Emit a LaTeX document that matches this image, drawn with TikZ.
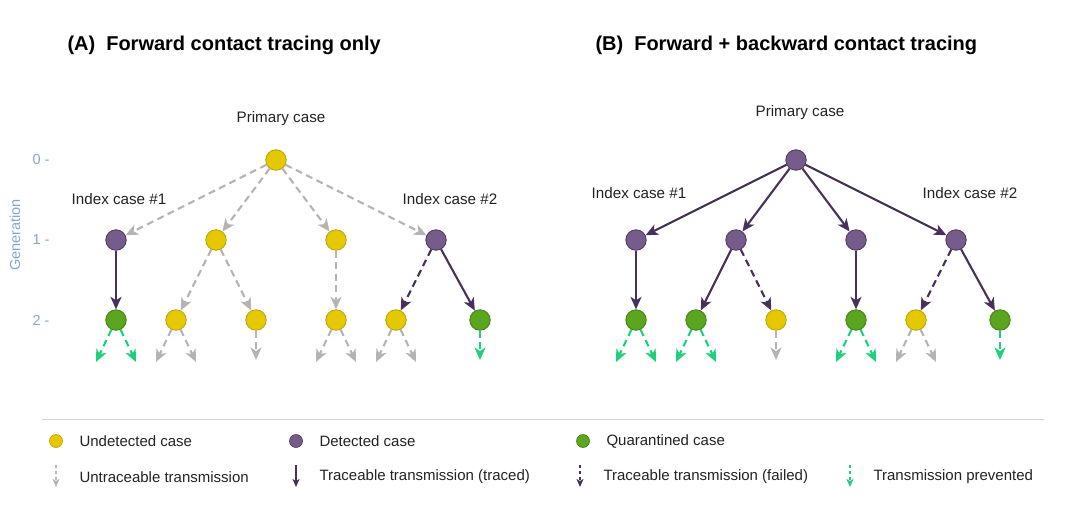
\documentclass[tikz,border=0pt]{standalone}
\usepackage{fontspec}
\setmainfont{Liberation Sans}
\usetikzlibrary{arrows.meta}
\definecolor{yel}{HTML}{E6C800}
\definecolor{yelB}{HTML}{B89E00}
\definecolor{purF}{HTML}{765C8A}
\definecolor{purB}{HTML}{4A3560}
\definecolor{purE}{HTML}{47305E}
\definecolor{grnF}{HTML}{5BA61E}
\definecolor{grnB}{HTML}{3E7A12}
\definecolor{gry}{HTML}{B4B4B4}
\definecolor{grnA}{HTML}{1DD17A}
\definecolor{axc}{HTML}{7FA6E2}
\definecolor{txt}{HTML}{222222}
\tikzset{
  case/.style={circle, minimum size=20.5pt, inner sep=0pt, line width=0.8pt},
  und/.style={case, fill=yel, draw=yelB},
  det/.style={case, fill=purF, draw=purB},
  qua/.style={case, fill=grnF, draw=grnB},
  tip/.style={-{Stealth[length=12.5pt,width=11pt,inset=3.5pt]}},
  untr/.style={tip, draw=gry, line width=2.1pt, dash pattern=on 7pt off 4.5pt},
  trc/.style={tip, draw=purE, line width=2.1pt},
  fail/.style={tip, draw=purE, line width=2.1pt, dash pattern=on 7pt off 4.5pt},
  prev/.style={tip, draw=grnA, line width=2.1pt, dash pattern=on 7pt off 4.5pt},
  lab/.style={text=txt, font=\fontsize{15.2}{18}\selectfont},
  ttl/.style={text=black, font=\fontsize{20}{24}\selectfont\bfseries, anchor=west},
  ax/.style={text=axc, font=\fontsize{14.5}{17}\selectfont},
  smtip/.style={-{Stealth[length=8pt,width=7pt,inset=2pt]}},
  luntr/.style={smtip, draw=gry, line width=1.5pt, dash pattern=on 3pt off 3pt},
  ltrc/.style={smtip, draw=purE, line width=1.5pt},
  lfail/.style={smtip, draw=purE, line width=1.5pt, dash pattern=on 3pt off 3pt},
  lprev/.style={smtip, draw=grnA, line width=1.5pt, dash pattern=on 3pt off 3pt},
  ldot/.style={circle, minimum size=13pt, inner sep=0pt, line width=0.6pt},
  leg/.style={text=txt, font=\fontsize{15}{18}\selectfont, anchor=west},
}
\begin{document}
\begin{tikzpicture}[x=1pt,y=-1pt]
\useasboundingbox (0,0) rectangle (1081,512);
% titles
\node[ttl] (tA) at (64,45) {(A)\hspace{0.55em}Forward contact tracing only};
\node[ttl] (tB) at (592,45) {(B)\hspace{0.55em}Forward + backward contact tracing};
% axis
\node[ax] (g0) at (41,160) {0 -};
\node[ax] (g1) at (41,240) {1 -};
\node[ax] (g2) at (41,320) {2 -};
\node[ax, rotate=90] (gen) at (15,235) {Generation};
% ===== Panel A =====
\node[lab] (pA) at (281,119) {Primary case};
\node[lab] (i1A) at (119,199) {Index case \#1};
\node[lab] (i2A) at (450,199) {Index case \#2};
\node[und] (a0) at (276,160) {};
\node[det] (a1) at (116,240) {};
\node[und] (a2) at (216,240) {};
\node[und] (a3) at (336,240) {};
\node[det] (a4) at (436,240) {};
\node[qua] (b1) at (116,320) {};
\node[und] (b2) at (176,320) {};
\node[und] (b3) at (256,320) {};
\node[und] (b4) at (336,320) {};
\node[und] (b5) at (396,320) {};
\node[qua] (b6) at (480,320) {};
\draw[untr] (a0) -- (a1);
\draw[untr] (a0) -- (a2);
\draw[untr] (a0) -- (a3);
\draw[untr] (a0) -- (a4);
\draw[trc] (a1) -- (b1);
\draw[untr] (a2) -- (b2);
\draw[untr] (a2) -- (b3);
\draw[untr] (a3) -- (b4);
\draw[fail] (a4) -- (b5);
\draw[trc] (a4) -- (b6);
\coordinate (s1l) at (96,362); \coordinate (s1r) at (136,362);
\coordinate (s2l) at (156,362); \coordinate (s2r) at (196,362);
\coordinate (s3) at (256,360);
\coordinate (s4l) at (316,362); \coordinate (s4r) at (356,362);
\coordinate (s5l) at (376,362); \coordinate (s5r) at (416,362);
\coordinate (s6) at (480,360);
\draw[prev] (b1) -- (s1l); \draw[prev] (b1) -- (s1r);
\draw[untr] (b2) -- (s2l); \draw[untr] (b2) -- (s2r);
\draw[untr] (b3) -- (s3);
\draw[untr] (b4) -- (s4l); \draw[untr] (b4) -- (s4r);
\draw[untr] (b5) -- (s5l); \draw[untr] (b5) -- (s5r);
\draw[prev] (b6) -- (s6);
% ===== Panel B =====
\node[lab] (pB) at (800,113) {Primary case};
\node[lab] (i1B) at (639,193) {Index case \#1};
\node[lab] (i2B) at (970,193) {Index case \#2};
\node[det] (c0) at (796,160) {};
\node[det] (c1) at (636,240) {};
\node[det] (c2) at (736,240) {};
\node[det] (c3) at (856,240) {};
\node[det] (c4) at (956,240) {};
\node[qua] (d1) at (636,320) {};
\node[qua] (d2) at (696,320) {};
\node[und] (d3) at (776,320) {};
\node[qua] (d4) at (856,320) {};
\node[und] (d5) at (916,320) {};
\node[qua] (d6) at (1000,320) {};
\draw[trc] (c0) -- (c1);
\draw[trc] (c0) -- (c2);
\draw[trc] (c0) -- (c3);
\draw[trc] (c0) -- (c4);
\draw[trc] (c1) -- (d1);
\draw[trc] (c2) -- (d2);
\draw[fail] (c2) -- (d3);
\draw[trc] (c3) -- (d4);
\draw[fail] (c4) -- (d5);
\draw[trc] (c4) -- (d6);
\coordinate (t1l) at (616,362); \coordinate (t1r) at (656,362);
\coordinate (t2l) at (676,362); \coordinate (t2r) at (716,362);
\coordinate (t3) at (776,360);
\coordinate (t4l) at (836,362); \coordinate (t4r) at (876,362);
\coordinate (t5l) at (896,362); \coordinate (t5r) at (936,362);
\coordinate (t6) at (1000,360);
\draw[prev] (d1) -- (t1l); \draw[prev] (d1) -- (t1r);
\draw[prev] (d2) -- (t2l); \draw[prev] (d2) -- (t2r);
\draw[untr] (d3) -- (t3);
\draw[prev] (d4) -- (t4l); \draw[prev] (d4) -- (t4r);
\draw[untr] (d5) -- (t5l); \draw[untr] (d5) -- (t5r);
\draw[prev] (d6) -- (t6);
% ===== Legend =====
\coordinate (sepL) at (42,419); \coordinate (sepR) at (1044,419);
\draw[gry!60, line width=0.8pt] (sepL) -- (sepR);
\node[ldot, fill=yel, draw=yelB] (ly) at (56,441) {};
\node[leg] (lyt) at (76,441) {Undetected case};
\node[ldot, fill=purF, draw=purB] (lp) at (296,441) {};
\node[leg] (lpt) at (316,441) {Detected case};
\node[ldot, fill=grnF, draw=grnB] (lg) at (583,441) {};
\node[leg] (lgt) at (603,441) {Quarantined case};
\coordinate (u1) at (56,465); \coordinate (u2) at (56,487);
\draw[luntr] (u1) -- (u2);
\node[leg] (lut) at (76,477) {Untraceable transmission};
\coordinate (v1) at (296,465); \coordinate (v2) at (296,487);
\draw[ltrc] (v1) -- (v2);
\node[leg] (lvt) at (316,477) {Traceable transmission (traced)};
\coordinate (w1) at (580,465); \coordinate (w2) at (580,487);
\draw[lfail] (w1) -- (w2);
\node[leg] (lwt) at (600,477) {Traceable transmission (failed)};
\coordinate (x1) at (850,465); \coordinate (x2) at (850,487);
\draw[lprev] (x1) -- (x2);
\node[leg] (lxt) at (870,477) {Transmission prevented};
\end{tikzpicture}
\end{document}
